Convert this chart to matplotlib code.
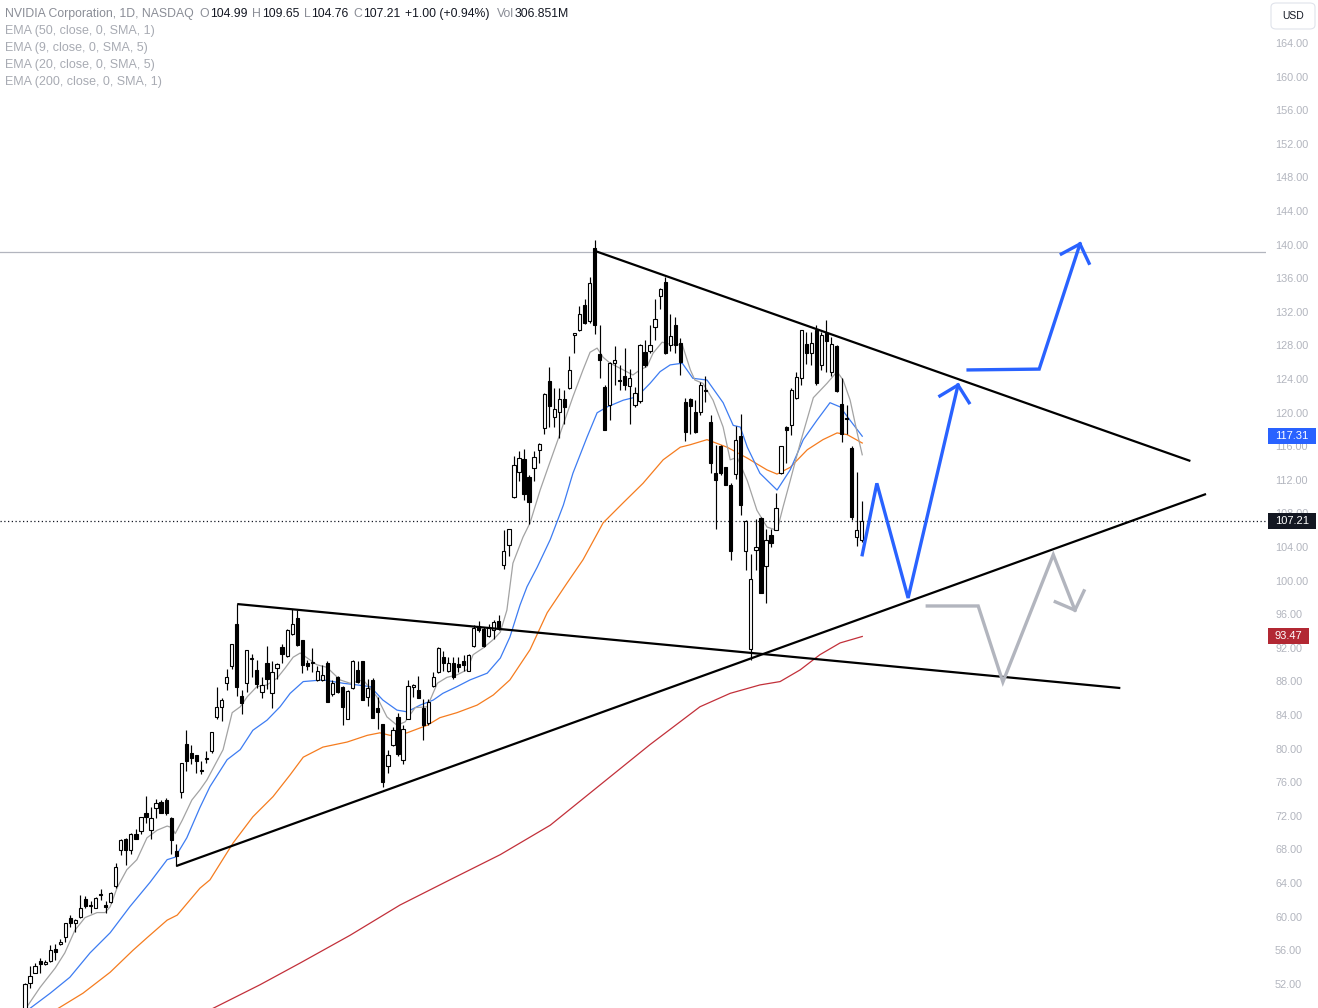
import numpy as np
import matplotlib.pyplot as plt
from matplotlib.patches import Rectangle, FancyBboxPatch

# daily candles (bar index 0..166)
opens = [49.0, 52.2, 53.4, 54.8, 54.5, 54.8, 56.3, 56.9, 57.7, 60.0,
         59.4, 60.1, 62.2, 61.4, 61.1, 62.7, 61.5, 61.9, 63.8, 68.0,
         69.4, 68.1, 70.0, 70.3, 72.4, 70.4, 73.0, 73.8, 74.0, 71.8,
         67.9, 74.9, 80.7, 79.6, 79.3, 77.6, 78.9, 79.8, 83.9, 85.1,
         87.9, 90.0, 95.0, 86.4, 87.9, 90.8, 89.5, 86.9, 90.3, 86.7,
         89.7, 92.2, 91.1, 93.8, 95.7, 93.0, 90.3, 90.3, 88.3, 88.3,
         90.3, 86.6, 88.6, 87.4, 83.7, 87.3, 89.5, 90.5, 86.3, 88.3,
         84.9, 83.0, 78.0, 80.6, 83.9, 78.8, 83.7, 87.4, 87.1, 84.9,
         83.2, 87.6, 89.2, 91.0, 89.3, 90.3, 90.2, 90.6, 89.4, 92.3,
         94.7, 94.4, 93.5, 94.2, 95.3, 102.0, 104.4, 110.1, 113.0, 114.6,
         112.4, 113.5, 115.7, 118.3, 123.9, 119.6, 120.2, 121.7, 123.0, 129.3,
         129.9, 132.9, 131.0, 139.7, 127.1, 123.2, 121.0, 126.0, 124.0, 124.5,
         123.3, 121.0, 121.5, 127.3, 127.4, 130.3, 134.0, 135.7, 128.2, 130.55,
         128.4, 121.4, 121.7, 120.2, 120.2, 122.8, 119.0, 112.9, 116.1, 113.6,
         111.5, 112.8, 117.3, 103.6, 92.0, 103.8, 107.6, 101.8, 105.5, 106.2,
         112.9, 118.4, 118.6, 121.8, 124.2, 128.3, 127.2, 129.9, 125.8, 129.6,
         125.0, 128.0, 121.2, 119.5, 115.9, 105.3, 104.99]
highs = [52.2, 54.2, 54.6, 55.2, 54.95, 56.7, 56.8, 57.4, 59.4, 60.3,
         59.8, 62.7, 62.6, 62.0, 62.5, 63.4, 62.0, 63.0, 66.5, 69.3,
         69.5, 70.1, 70.6, 72.0, 74.5, 73.2, 74.1, 74.0, 74.2, 72.0,
         68.8, 78.4, 82.3, 80.6, 79.4, 78.6, 79.8, 82.1, 87.5, 86.1,
         89.6, 92.6, 97.3, 87.1, 91.9, 91.4, 90.7, 88.6, 92.3, 90.5,
         90.3, 92.6, 94.3, 96.7, 96.6, 93.1, 90.7, 92.1, 89.9, 90.1,
         90.5, 88.3, 88.8, 87.6, 87.1, 90.7, 90.5, 90.6, 88.4, 88.5,
         86.3, 83.1, 80.0, 82.7, 84.3, 82.9, 88.3, 87.8, 88.8, 86.0,
         86.0, 89.2, 92.2, 91.7, 91.0, 91.0, 91.0, 91.3, 91.4, 94.8,
         95.3, 94.6, 95.0, 95.4, 96.0, 106.2, 106.3, 114.9, 115.5, 115.75,
         112.7, 115.5, 116.5, 122.4, 125.6, 123.0, 123.0, 122.8, 126.9, 129.65,
         132.8, 133.6, 136.3, 140.7, 130.5, 123.4, 126.2, 128.0, 125.8, 127.8,
         125.3, 123.2, 128.3, 128.8, 130.5, 133.7, 135.0, 136.3, 131.9, 131.5,
         129.0, 121.8, 121.8, 121.6, 123.8, 124.5, 119.8, 116.3, 116.3, 113.7,
         111.7, 118.5, 120.0, 107.3, 103.3, 107.5, 107.7, 106.3, 106.3, 110.5,
         116.2, 118.5, 123.0, 125.0, 129.95, 129.75, 129.75, 130.5, 129.75, 131.2,
         129.1, 128.2, 124.2, 121.0, 116.1, 113.1, 109.65]
lows = [48.8, 51.6, 53.4, 53.4, 54.35, 54.7, 54.9, 56.7, 57.1, 58.9,
        58.3, 60.0, 61.1, 60.6, 61.1, 62.1, 60.6, 61.7, 63.5, 67.5,
        66.3, 67.6, 69.3, 70.0, 71.3, 69.4, 71.9, 72.4, 72.2, 67.6,
        66.1, 74.2, 77.5, 78.3, 77.2, 77.1, 78.4, 79.6, 83.7, 83.4,
        87.1, 89.6, 86.4, 84.2, 86.9, 88.6, 87.3, 86.2, 87.2, 85.0,
        88.4, 90.3, 91.0, 93.6, 92.3, 89.1, 89.5, 89.2, 88.2, 88.2,
        85.7, 86.4, 86.7, 82.9, 83.6, 87.2, 87.9, 85.9, 85.2, 83.8,
        82.5, 75.6, 77.2, 80.4, 79.2, 78.3, 83.6, 86.3, 86.2, 81.2,
        82.9, 87.4, 89.1, 89.3, 89.2, 88.4, 89.2, 89.3, 89.3, 92.2,
        94.0, 92.2, 93.4, 93.2, 94.2, 101.5, 103.0, 109.9, 112.0, 109.7,
        106.9, 112.0, 114.1, 117.6, 118.4, 118.4, 117.1, 118.8, 122.9, 127.2,
        129.8, 130.7, 130.8, 129.5, 124.2, 118.0, 119.2, 123.4, 122.8, 122.8,
        118.8, 120.8, 121.3, 125.6, 127.2, 128.8, 132.4, 127.1, 127.4, 127.2,
        124.6, 116.7, 117.6, 117.7, 119.8, 121.4, 112.9, 106.3, 112.7, 111.5,
        102.6, 112.2, 107.9, 101.4, 90.7, 101.4, 98.6, 97.5, 104.1, 106.1,
        112.8, 114.1, 117.4, 121.7, 123.4, 125.9, 125.8, 123.4, 125.2, 125.0,
        124.5, 122.6, 116.6, 117.6, 107.3, 104.2, 104.76]
closes = [52.1, 53.0, 54.2, 54.5, 54.7, 56.2, 55.9, 57.1, 59.3, 59.4,
          59.7, 61.2, 61.4, 61.5, 62.3, 62.8, 61.3, 62.9, 66.0, 69.2,
          68.0, 69.9, 69.4, 72.0, 72.0, 71.9, 73.7, 72.5, 72.4, 69.2,
          67.3, 78.4, 78.7, 79.0, 78.6, 77.5, 79.0, 82.1, 85.1, 85.9,
          88.6, 92.6, 87.4, 85.6, 91.8, 90.9, 87.8, 87.7, 88.4, 89.2,
          90.2, 91.4, 94.2, 95.0, 92.5, 90.1, 90.0, 90.4, 89.4, 88.9,
          85.7, 87.9, 86.9, 85.1, 87.0, 90.5, 88.0, 85.9, 87.3, 83.8,
          84.5, 76.1, 79.4, 82.3, 79.5, 82.5, 87.6, 87.7, 86.2, 82.9,
          85.7, 88.6, 92.1, 90.35, 90.3, 88.6, 89.8, 90.1, 91.3, 94.5,
          94.2, 92.3, 94.6, 95.2, 94.6, 103.7, 106.3, 113.9, 114.7, 110.4,
          109.5, 114.8, 116.4, 122.3, 120.9, 120.6, 121.7, 120.75, 125.2, 129.6,
          131.9, 130.8, 135.6, 130.55, 126.4, 118.0, 126.0, 126.4, 123.9, 123.4,
          124.2, 122.5, 128.2, 125.8, 128.2, 131.3, 134.8, 127.2, 129.2, 128.2,
          126.2, 117.8, 120.9, 117.8, 123.4, 122.7, 114.1, 112.1, 112.9, 111.5,
          103.6, 116.9, 109.1, 107.25, 100.3, 104.1, 98.7, 104.9, 104.6, 108.8,
          116.1, 118.0, 122.8, 124.4, 129.9, 127.2, 128.4, 123.6, 129.35, 128.6,
          128.3, 122.7, 117.6, 119.4, 107.7, 106.2, 107.21]

# moving averages, sampled along the drawn lines (bar index, price)
ema9_bar = [0.4, 3.0, 6.0, 7.9, 9.9, 11.9, 14.3, 15.9, 16.9, 18.3, 20.2, 22.2, 24.2, 26.2, 28.2,
            29.2, 29.8, 31.2, 33.1, 34.7, 36.1, 37.7, 39.3, 41.1, 42.7, 44.1, 46.0, 48.0, 50.0,
            51.6, 53.2, 54.6, 57.9, 59.9, 62.5, 64.5, 67.1, 69.8, 71.8, 73.8, 75.4, 77.4, 79.8,
            81.8, 83.7, 85.7, 87.7, 88.9, 90.9, 92.9, 94.3, 95.6, 96.8, 98.8, 100.2, 102.2, 103.6,
            106.2, 108.7, 110.7, 112.1, 113.5, 114.7, 116.1, 118.7, 120.6, 122.0, 123.4, 124.6,
            126.4, 128.4, 130.4, 132.0, 132.9, 134.5, 136.5, 138.5, 139.9, 141.3, 143.3, 145.2,
            147.2, 149.2, 150.4, 151.8, 153.8, 156.4, 159.1, 161.1, 162.3, 163.7, 165.1, 166.1]
ema9_val = [49.4, 51.7, 54.0, 55.8, 58.5, 60.0, 60.6, 60.6, 61.3, 63.6, 65.7, 66.9, 69.5, 70.4, 70.9,
            70.7, 70.0, 71.6, 74.0, 75.2, 76.4, 78.2, 80.0, 84.4, 85.1, 86.3, 87.5, 87.7, 88.5,
            89.7, 91.0, 91.5, 90.1, 89.8, 88.3, 87.9, 88.3, 86.3, 83.9, 82.9, 83.3, 85.0, 85.1,
            87.9, 88.6, 88.9, 89.5, 91.3, 92.1, 93.1, 94.0, 96.6, 102.2, 105.3, 107.0, 110.9, 113.3,
            117.7, 122.0, 125.2, 127.3, 127.8, 126.7, 126.0, 125.2, 124.6, 125.2, 125.6, 127.2,
            128.5, 128.2, 128.2, 125.2, 124.0, 123.6, 121.6, 118.4, 114.5, 114.8, 112.0, 108.5,
            106.5, 106.1, 108.9, 112.0, 116.5, 121.9, 123.6, 125.0, 124.0, 121.6, 117.7, 115.1]
ema20_bar = [1.0, 5.0, 8.9, 12.9, 16.9, 20.8, 24.8, 28.2, 29.8, 32.1, 34.7, 36.7, 40.1, 42.7, 45.2,
             48.0, 50.6, 52.6, 55.2, 59.1, 63.1, 65.9, 68.5, 71.0, 73.8, 75.8, 78.4, 81.0, 82.9,
             85.7, 88.3, 91.7, 94.3, 96.2, 98.2, 99.6, 101.6, 104.2, 106.8, 108.7, 111.5, 113.5,
             115.5, 118.7, 121.4, 124.0, 126.0, 128.0, 130.4, 132.5, 135.3, 138.5, 140.5, 141.9,
             143.3, 145.8, 149.2, 151.8, 154.4, 157.1, 159.7, 161.7, 163.7, 166.1]
ema20_val = [49.2, 51.0, 52.9, 55.8, 58.2, 61.3, 64.2, 66.9, 67.2, 69.5, 73.1, 75.6, 78.8, 80.0, 82.3,
             83.5, 85.1, 86.7, 88.1, 88.3, 87.9, 87.7, 87.5, 85.9, 84.7, 84.5, 85.3, 85.9, 86.7,
             87.5, 88.3, 89.1, 90.9, 93.4, 97.2, 99.4, 101.7, 105.0, 109.1, 112.9, 117.2, 120.1,
             120.8, 121.6, 122.0, 123.6, 125.0, 125.8, 126.0, 124.2, 124.0, 121.3, 118.6, 118.4,
             116.0, 112.9, 110.9, 113.3, 116.9, 119.2, 121.3, 120.8, 119.2, 117.31]
ema50_bar = [6.6, 11.5, 16.9, 21.4, 24.2, 28.2, 30.2, 34.7, 36.7, 41.3, 45.2, 49.2, 52.6, 55.2, 59.1,
             63.9, 67.9, 70.4, 72.4, 75.8, 79.8, 82.3, 85.7, 89.7, 92.9, 96.2, 100.2, 103.6, 107.5,
             110.7, 114.7, 118.7, 122.6, 126.6, 130.0, 132.0, 135.3, 139.3, 143.3, 147.2, 149.2,
             151.8, 155.2, 158.3, 161.1, 163.1, 166.1]
ema50_val = [49.2, 51.0, 53.5, 56.1, 57.6, 59.7, 60.3, 63.5, 64.5, 68.9, 72.0, 74.4, 77.0, 79.1, 80.3,
             80.9, 81.7, 82.0, 81.7, 82.0, 82.9, 83.8, 84.4, 85.3, 86.5, 88.3, 91.9, 96.3, 99.8,
             102.6, 107.0, 109.4, 111.7, 114.5, 116.0, 116.3, 116.9, 116.0, 114.7, 113.3, 112.8,
             113.6, 115.7, 116.9, 117.7, 117.5, 116.5]
ema200_bar = [37.3, 46.6, 54.6, 64.5, 74.4, 84.3, 94.3, 104.2, 114.1, 124.0, 133.9, 139.9, 145.8,
              149.8, 153.8, 157.7, 161.7, 166.1]
ema200_val = [49.2, 52.0, 54.6, 57.9, 61.5, 64.5, 67.5, 71.0, 75.8, 80.6, 85.1, 86.7, 87.7,
              88.1, 89.5, 91.3, 92.7, 93.47]

last_close = 107.21
level_high = 139.24

# hand-drawn trendlines (bar index, price)
trendlines = [
    ([113.1, 231.2], [139.36, 114.36]),
    ([30.0, 234.3], [66.14, 110.43]),
    ([42.1, 217.3], [97.33, 87.33]),
]
blue_path1_bar = [166.1, 169.0, 175.2, 185.1]
blue_path1_val = [103.2, 111.7, 98.05, 123.4]
blue_head1_bar = [181.5, 185.1, 187.3]
blue_head1_val = [122.1, 123.4, 121.3]
blue_path2_bar = [187.1, 201.2, 209.3]
blue_path2_val = [125.2, 125.3, 140.2]
blue_head2_bar = [205.6, 209.3, 211.1]
blue_head2_val = [139.0, 140.2, 137.9]
gray_path_bar = [179.0, 189.1, 194.0, 204.0, 208.3]
gray_path_val = [97.1, 97.1, 88.05, 103.2, 96.6]
gray_head_bar = [204.4, 208.3, 210.1]
gray_head_val = [97.6, 96.6, 98.9]

price_ticks = list(range(52, 165, 4))

W, H = 1318, 1008
plt.rcParams['font.family'] = ['Liberation Sans', 'DejaVu Sans']
fig = plt.figure(figsize=(W / 100, H / 100), dpi=100)
fig.patch.set_facecolor('white')
ax = fig.add_axes([0, 0, 1266 / W, 1])
ax.set_xlim(-4.96, 246.2)
ax.set_ylim(49.24, 169.24)
ax.axis('off')

# levels
ax.axhline(level_high, color='#b2b5be', lw=0.9, zorder=1)
ax.axhline(last_close, color='#131722', lw=0.9, ls=(0, (1, 2)), zorder=1)

# moving averages
ax.plot(ema200_bar, ema200_val, color='#c2303a', lw=0.9, zorder=2)
ax.plot(ema50_bar, ema50_val, color='#f57c1f', lw=0.9, zorder=2)
ax.plot(ema20_bar, ema20_val, color='#3d7cf2', lw=0.9, zorder=2)
ax.plot(ema9_bar, ema9_val, color='#a3a3a3', lw=0.9, zorder=2)

# candles
o = np.array(opens)
h = np.array(highs)
l = np.array(lows)
c = np.array(closes)
idx = np.arange(len(c))
up = c >= o
ax.vlines(idx, l, h, color='black', lw=0.85, zorder=3)
ax.bar(idx, np.maximum(np.abs(c - o), 0.12), bottom=np.minimum(o, c), width=0.64,
       color=np.where(up, 'white', 'black'), edgecolor='black', linewidth=0.8, zorder=4)

# drawings
for xs, ys in trendlines:
    ax.plot(xs, ys, color='black', lw=1.6, solid_capstyle='butt', zorder=5)
for xs, ys in [(blue_path1_bar, blue_path1_val), (blue_head1_bar, blue_head1_val),
               (blue_path2_bar, blue_path2_val), (blue_head2_bar, blue_head2_val)]:
    ax.plot(xs, ys, color='#2962ff', lw=2.4, solid_joinstyle='miter', zorder=6)
for xs, ys in [(gray_path_bar, gray_path_val), (gray_head_bar, gray_head_val)]:
    ax.plot(xs, ys, color='#b2b5be', lw=2.4, solid_joinstyle='miter', zorder=6)

# price scale
ytr = ax.get_yaxis_transform()
for v in price_ticks:
    ax.text(1275 / 1266, v, f'{v:.2f}', transform=ytr, ha='left', va='center',
            fontsize=7.8, color='#b2b5be', clip_on=False, zorder=7)

tags = [(ema20_val[-1], '#2962ff', 48), (last_close, '#131722', 48), (ema200_val[-1], '#b22833', 41)]
for val, col, wpx in tags:
    ax.add_patch(Rectangle((1268 / 1266, val - 0.95), wpx / 1266, 1.9, transform=ytr,
                           facecolor=col, edgecolor='none', clip_on=False, zorder=8))
    ax.text((1268 + wpx / 2) / 1266, val, f'{val:.2f}', transform=ytr, ha='center', va='center',
            fontsize=8, color='white', clip_on=False, zorder=9)

fig.patches.append(FancyBboxPatch((1271 / W, 1 - 29 / H), 44 / W, 26 / H,
                                  boxstyle='round,pad=0,rounding_size=0.004',
                                  transform=fig.transFigure, facecolor='white',
                                  edgecolor='#e0e3eb', lw=0.8))
fig.text(1293 / W, 1 - 16 / H, 'USD', ha='center', va='center', fontsize=7.5, color='#131722')

# legend header, laid out left to right
grey, dark = '#8a8d96', '#131722'
head = [('NVIDIA Corporation, 1D, NASDAQ', grey, 6), ('O', grey, 0.5), ('104.99', dark, 5),
        ('H', grey, 0.5), ('109.65', dark, 5), ('L', grey, 0.5), ('104.76', dark, 5),
        ('C', grey, 0.5), ('107.21', dark, 5), ('+1.00 (+0.94%)', dark, 7),
        ('Vol', grey, 0.5), ('306.851M', dark, 0)]
renderer = fig.canvas.get_renderer()
xp = 5
for s, col, gap in head:
    t = fig.text(xp / W, 1 - 14 / H, s, ha='left', va='center', fontsize=8.8, color=col)
    xp += t.get_window_extent(renderer).width + gap

ema_lines = ['EMA (50, close, 0, SMA, 1)', 'EMA (9, close, 0, SMA, 5)',
             'EMA (20, close, 0, SMA, 5)', 'EMA (200, close, 0, SMA, 1)']
for k, s in enumerate(ema_lines):
    fig.text(5 / W, 1 - (31 + 17 * k) / H, s, ha='left', va='center', fontsize=9, color='#a8abb3')

fig.savefig('out.png', dpi=100, facecolor='white')
